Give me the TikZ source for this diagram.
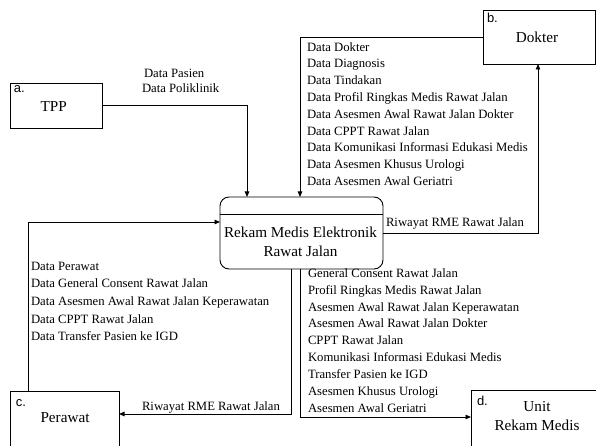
\documentclass[tikz,border=0pt]{standalone}
\usepackage{fontspec}
\setmainfont{Liberation Serif}
\newfontfamily\lettfont{Liberation Sans}
\usetikzlibrary{arrows.meta,calc}
\begin{document}
\begin{tikzpicture}[x=1bp,y=-1bp,
  every node/.style={inner sep=0pt, outer sep=0pt},
  entbox/.style={draw, line width=0.9bp, rectangle},
  proc/.style={draw, line width=0.9bp, rounded corners=9bp, rectangle},
  lett/.style={font=\lettfont\fontsize{13bp}{15bp}\selectfont, anchor=base west},
  enttext/.style={font=\fontsize{15.2bp}{19bp}\selectfont, align=center},
  flowtext/.style={font=\fontsize{12.7bp}{16.8bp}\selectfont, align=left, anchor=west},
  flow/.style={line width=0.9bp},
  arr/.style={flow, -{Triangle[length=5.5bp,width=4.5bp]}},
]
\useasboundingbox (0,0) rectangle (596,446);

% entities
\node[entbox, minimum width=92bp, minimum height=45bp] (tpp) at (56,105.5) {};
\node[enttext] (tppt) at (53.7,107) {TPP};
\node[lett] (tppl) at ($(tpp.north west)+(4,10)$) {a.};

\node[entbox, minimum width=112bp, minimum height=54bp] (dokter) at (539,37) {};
\node[enttext] (doktert) at (537,37) {Dokter};
\node[lett] (dokterl) at ($(dokter.north west)+(4,13)$) {b.};

\node[entbox, minimum width=109bp, minimum height=79bp] (perawat) at (64.5,430.5) {};
\node[enttext] (perawatt) at (65,418) {Perawat};
\node[lett] (perawatl) at ($(perawat.north west)+(6,15)$) {c.};

\node[entbox, minimum width=149bp, minimum height=80bp] (unit) at (545.5,430) {};
\node[enttext] (unitt) at (537,416.5) {Unit\\Rekam Medis};
\node[lett] (unitl) at ($(unit.north west)+(6,15)$) {d.};

% process
\node[proc, minimum width=163bp, minimum height=72bp] (rme) at (301.5,233) {};
\draw[flow] ($(rme.north west)+(0,17)$) -- ($(rme.north east)+(0,17)$);
\node[enttext] (rmet) at (300.5,241.5) {Rekam Medis Elektronik\\Rawat Jalan};

% flows
\draw[arr] (tpp.east) -| ($(rme.north west)+(27,0)$);
\draw[arr] (dokter.west) -| ($(rme.north west)+(80,0)$);
\draw[arr] (rme.east) -| ($(dokter.south)+(-1,0)$);
\draw[arr] ($(perawat.north west)+(18,0)$) |- ($(rme.north west)+(0,25)$);
\draw[arr] ($(rme.south west)+(71,0)$) |- ($(perawat.north east)+(0,23)$);
\draw[arr] ($(rme.south west)+(80,0)$) |- ($(unit.north west)+(0,27)$);

% labels
\node[flowtext, font=\fontsize{12.7bp}{15bp}\selectfont] (lpas) at (142,80.5) {\hspace*{2bp}Data Pasien\\Data Poliklinik};
\node[flowtext] (ldok) at (307,114) {Data Dokter\\Data Diagnosis\\Data Tindakan\\Data Profil Ringkas Medis Rawat Jalan\\Data Asesmen Awal Rawat Jalan Dokter\\Data CPPT Rawat Jalan\\Data Komunikasi Informasi Edukasi Medis\\Data Asesmen Khusus Urologi\\Data Asesmen Awal Geriatri};
\node[flowtext] (lriw1) at (386,223) {Riwayat RME Rawat Jalan};
\node[flowtext, font=\fontsize{12.7bp}{17.7bp}\selectfont] (lper) at (31,301.5) {Data Perawat\\Data General Consent Rawat Jalan\\Data Asesmen Awal Rawat Jalan Keperawatan\\Data CPPT Rawat Jalan\\Data Transfer Pasien ke IGD};
\node[flowtext, font=\fontsize{12.7bp}{16.9bp}\selectfont] (lunit) at (308,340.5) {General Consent Rawat Jalan\\Profil Ringkas Medis Rawat Jalan\\Asesmen Awal Rawat Jalan Keperawatan\\Asesmen Awal Rawat Jalan Dokter\\CPPT Rawat Jalan\\Komunikasi Informasi Edukasi Medis\\Transfer Pasien ke IGD\\Asesmen Khusus Urologi\\Asesmen Awal Geriatri};
\node[flowtext] (lriw2) at (142,407) {Riwayat RME Rawat Jalan};
\end{tikzpicture}
\end{document}
